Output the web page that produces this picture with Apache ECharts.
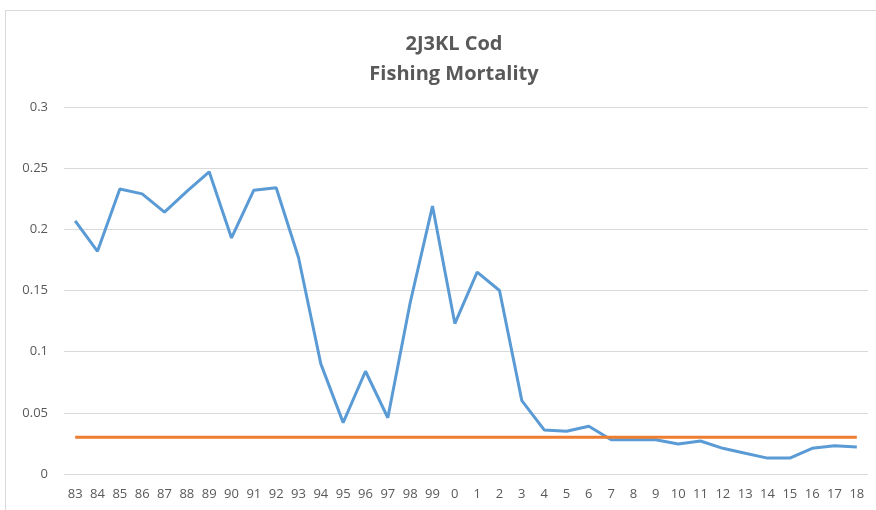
<!DOCTYPE html>
<html lang="en">
<head>
    <meta charset="UTF-8">
    <title>2J3KL Cod Fishing Mortality</title>
    <script src="https://cdn.jsdelivr.net/npm/echarts@6/dist/echarts.min.js"></script>
    <style>
        html, body { margin: 0; padding: 0; background: #fff; }
        #main { width: 876px; height: 510px; }
    </style>
</head>
<body>
    <div id="main"></div>
    <script>
        // years, 83..99 then 0..18
        var years = ['83', '84', '85', '86', '87', '88', '89', '90', '91', '92', '93', '94', '95', '96', '97', '98', '99',
            '0', '1', '2', '3', '4', '5', '6', '7', '8', '9', '10', '11', '12', '13', '14', '15', '16', '17', '18']
        var mortality = [0.207, 0.182, 0.233, 0.229, 0.214, 0.231, 0.247, 0.193, 0.232, 0.234, 0.177, 0.090, 0.042, 0.084, 0.046, 0.140, 0.219,
            0.123, 0.165, 0.150, 0.060, 0.036, 0.035, 0.039, 0.028, 0.028, 0.028, 0.0245, 0.027, 0.021, 0.017, 0.013, 0.013, 0.021, 0.023, 0.022]
        var refLevel = 0.03
        var refLine = years.map(function() { return refLevel })

        var mCharts = echarts.init(document.getElementById('main'))
        var option = {
            animation: false,
            title: {
                text: '2J3KL Cod\nFishing Mortality',
                left: 449,
                top: 24,
                textAlign: 'center',
                textStyle: {
                    fontFamily: 'Open Sans',
                    fontSize: 20,
                    fontWeight: 'bold',
                    color: '#595959',
                    lineHeight: 30
                }
            },
            graphic: [{
                type: 'rect',
                shape: { x: 5.5, y: 10.5, width: 880, height: 520 },
                style: { fill: 'none', stroke: '#d9d9d9', lineWidth: 1 },
                silent: true
            }],
            grid: {
                left: 64,
                right: 8,
                top: 107,
                bottom: 36
            },
            xAxis: {
                type: 'category',
                data: years,
                boundaryGap: true,
                axisLine: { show: false },
                axisTick: { show: false },
                axisLabel: {
                    color: '#595959',
                    fontFamily: 'Open Sans',
                    fontSize: 13,
                    margin: 14,
                    interval: 0
                }
            },
            yAxis: {
                type: 'value',
                min: 0,
                max: 0.3,
                interval: 0.05,
                axisLine: { show: false },
                axisTick: { show: false },
                axisLabel: {
                    color: '#595959',
                    fontFamily: 'Open Sans',
                    fontSize: 13,
                    margin: 16
                },
                splitLine: { lineStyle: { color: '#d9d9d9', width: 1 } }
            },
            series: [{
                type: 'line',
                data: mortality,
                symbol: 'none',
                lineStyle: { color: '#5b9bd5', width: 3 },
                z: 2
            }, {
                type: 'line',
                data: refLine,
                symbol: 'none',
                lineStyle: { color: '#ed7d31', width: 3 },
                z: 3
            }]
        }
        mCharts.setOption(option)
    </script>
</body>
</html>
